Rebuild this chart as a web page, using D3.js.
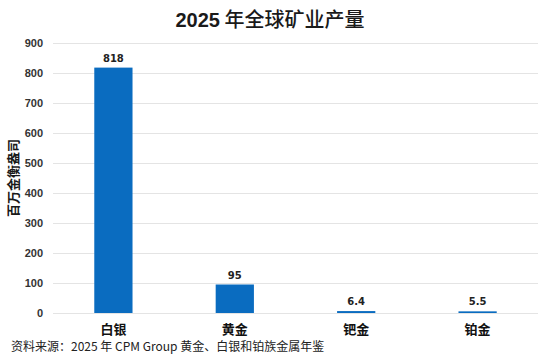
<!DOCTYPE html>
<html><head><meta charset="utf-8">
<script src="https://cdn.jsdelivr.net/npm/d3@7"></script>
<style>body{margin:0;background:#fff;}svg{display:block;font-family:"Noto Sans CJK SC","Noto Sans",sans-serif;}</style>
</head><body><svg id="c" width="550" height="359"></svg>
<script>
const categories = ["白银", "黄金", "钯金", "铂金"];
const values = [818, 95, 6.4, 5.5];
const labels = ["818", "95", "6.4", "5.5"];
const yTicks = [0, 100, 200, 300, 400, 500, 600, 700, 800, 900];
const titleNum = "2025";
const titleText = " 年全球矿业产量";
const yTitle = "百万金衡盎司";
const source = "资料来源：2025 年 CPM Group 黄金、白银和铂族金属年鉴";

const svg = d3.select("#c");
const m = {l: 53, r: 12, t: 43, b: 46};
const W = 550, H = 359;
const x = d3.scaleBand().domain(categories).range([m.l, W - m.r]).paddingInner(0.685).paddingOuter(0.34);
const y = d3.scaleLinear().domain([0, 900]).range([H - m.b, m.t]);

const t = svg.append("text").attr("x", 270).attr("y", 27).attr("text-anchor", "middle")
  .attr("font-size", 20).attr("fill", "#1a1a1a");
t.append("tspan").attr("font-weight", "bold").attr("font-family", "'Liberation Sans',Arial,sans-serif").text(titleNum);
t.append("tspan").attr("font-weight", 500).text(titleText);

const ya = svg.append("g").attr("transform", `translate(${m.l},0)`)
  .call(d3.axisLeft(y).tickValues(yTicks).tickSize(-(W - m.r - m.l)).tickPadding(10));
ya.select(".domain").remove();
ya.selectAll(".tick line").attr("stroke", "#e4e4e4").attr("stroke-width", 1);
ya.selectAll(".tick text").attr("font-size", 11).attr("font-weight", "bold").attr("fill", "#333")
  .attr("font-family", "'Liberation Sans',Arial,sans-serif");

svg.append("text").attr("transform", `translate(18,${(y(0)+y(900))/2}) rotate(-90)`)
  .attr("text-anchor", "middle").attr("font-size", 13).attr("font-weight", "bold").attr("fill", "#1a1a1a").text(yTitle);

svg.selectAll("rect.bar").data(values).join("rect").attr("class", "bar")
  .attr("x", (d, i) => x(categories[i])).attr("width", x.bandwidth())
  .attr("y", d => y(d)).attr("height", d => y(0) - y(d)).attr("fill", "#0a6cc0");

svg.selectAll("text.val").data(values).join("text").attr("class", "val")
  .attr("x", (d, i) => x(categories[i]) + x.bandwidth() / 2).attr("y", d => y(d) - 6)
  .attr("text-anchor", "middle").attr("font-size", 10).attr("font-weight", "bold").attr("fill", "#222")
  .attr("font-family", "'DejaVu Sans',sans-serif")
  .text((d, i) => labels[i]);

svg.selectAll("text.cat").data(categories).join("text").attr("class", "cat")
  .attr("x", d => x(d) + x.bandwidth() / 2).attr("y", H - m.b + 21)
  .attr("text-anchor", "middle").attr("font-size", 13).attr("font-weight", "bold").attr("fill", "#111").text(d => d);

svg.append("text").attr("x", 11).attr("y", 351).attr("font-size", 12).attr("fill", "#222").text(source);
</script></body></html>
